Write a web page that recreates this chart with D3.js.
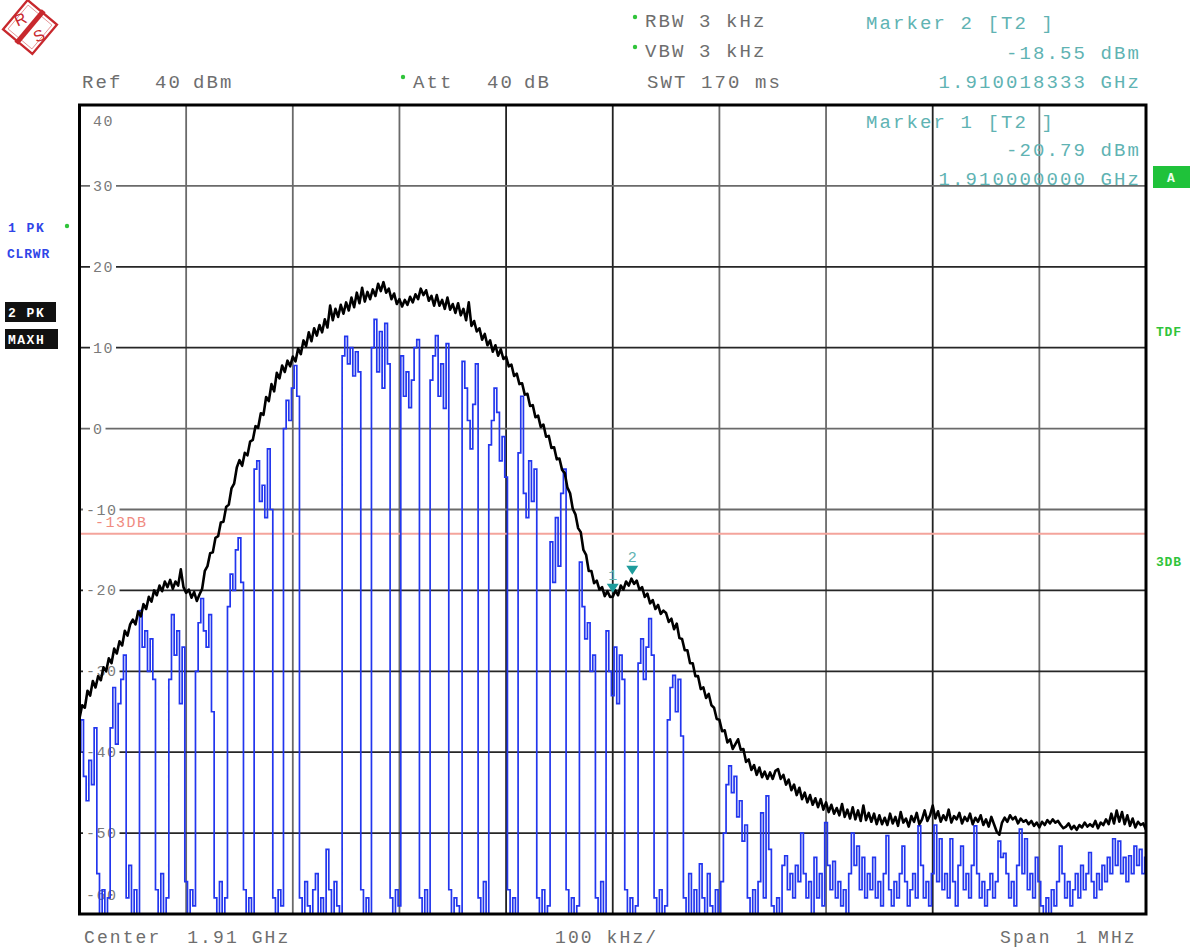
<!DOCTYPE html>
<html>
<head>
<meta charset="utf-8">
<script src="https://cdn.jsdelivr.net/npm/d3@7/dist/d3.min.js"></script>
<style>
  html, body { margin: 0; padding: 0; background: #fff; }
  svg { display: block; }
</style>
</head>
<body>
<svg id="chart" width="1192" height="949"></svg>
<script>
// Spectrum analyzer sweep: center 1.91 GHz, span 1 MHz, 401 sweep points
const CENTER_GHZ = 1.91;
const SPAN_KHZ = 1000;
const SWEEP_STEP_KHZ = 2.5;
const REF_LEVEL = 40;
const LEVEL_RANGE = [-60, 40];
const LEVEL_LABELS = ['40', '30', '20', '10', '0', '-10', '-20', '-30', '-40', '-50', '-60'];
const LIMIT_DB = -13;

// trace 1: PK, clear/write (blue) - dBm per sweep point
const trace1 = [
  -40,-36,-43,-46,-41,-44,-37,-55,-60,-57,-60,-58,-37,-32,-39,-34,-31,-28,-58,-54,
  -60,-57,-60,-22.5,-27,-25,-30,-26,-31,-57,-60,-55,-60,-58,-31,-23,-28,-25,-34,-27,
  -56,-60,-57,-59,-30,-24,-21,-25,-27,-23,-35,-58,-60,-56,-60,-58,-22,-18,-20,-15,
  -13.5,-19,-57,-60,-58,-60,-5,-4,-9,-7,-11,-2.5,-10,-58,-60,-57,-59,0,3.5,1,
  5,7.8,4,-58,-60,-56,-59,-60,-57,-55,-60,-58,-60,-52,-57,-60,-56,-59,-60,9,
  11.4,8,10,6.5,9.5,7,-57,-60,-58,-60,10,13.5,7,12,5,13,8,-58,-60,-57,
  -59,9,4,7,2.6,6,10,11,-58,-60,-57,-60,6,9,11.5,4,8,2.5,10.5,-57,
  -60,-58,-59,-60,8.3,5,1,-2.5,3,8,-58,-60,-56,-60,-2,1,5,2,-4,-1,
  -6,-57,-60,-58,-60,-3,4,-8,-11,-4,-9,-5,-58,-60,-57,-60,-59,-14,-19,-11,
  -17,-8,-5,-57,-60,-58,-60,-59,-16.5,-22,-26,-24,-30,-28,-58,-60,-56,-60,-25,-30,
  -33,-27,-34,-28,-31,-57,-60,-58,-60,-59,-29,-26,-31,-27,-23.5,-28,-58,-60,-57,-60,
  -59,-36,-32,-30.5,-35,-31,-38,-58,-60,-55,-60,-57,-60,-53.8,-58,-60,-55,-59,-60,-57,
  -60,-56,-50,-44,-41.7,-45,-43,-48,-46,-51,-49,-58,-60,-57,-60,-56,-47.5,-58,-45.4,-52,
  -59,-60,-58,-60,-54,-52.8,-57,-55,-58,-54,-56,-50,-55,-58,-56,-60,-53,-58,-55,-59,
  -48.7,-54,-57,-53.5,-58,-56,-59,-57,-60,-55,-50,-54,-51.6,-57,-53,-58,-55,-57,-53,-58,
  -56,-59,-55,-50.3,-57,-59,-56,-58,-55,-51.6,-56,-59,-57,-55,-58,-49.1,-54,-58,-56,-59,
  -55,-49,-56,-50.7,-57,-55,-58,-50.7,-56,-59,-54,-51.6,-57,-55,-58,-54,-49.1,-55,-58,-56,
  -59,-57,-55,-58,-56,-51,-53,-52.5,-55,-58,-56,-59,-54,-49.5,-55,-50.7,-57,-55,-58,-53,
  -56,-59,-60,-58,-60,-57,-59,-56,-51.6,-55,-58,-56,-59,-57,-55,-58,-54,-57,-55,-52.4,
  -56,-58,-55,-57,-54,-56,-53,-55,-50.7,-54,-51,-55,-53,-56,-52.8,-55,-51.6,-54,-52,-55,-53
];

// trace 2: PK, max hold (black) - dBm per sweep point
const trace2 = [
  -35.8,-34.2,-34.5,-32.4,-33.0,-31.2,-32.0,-30.6,-31.1,-29.5,-30.0,-28.4,-29.0,-27.2,-27.8,-26.3,-26.8,-25.0,-25.6,-24.2,
  -23.6,-24.2,-22.6,-23.2,-21.7,-22.3,-20.8,-21.4,-20.0,-20.6,-19.4,-20.1,-18.9,-19.6,-18.7,-19.8,-18.9,-19.4,-17.4,-19.6,
  -20.3,-19.9,-20.9,-20.2,-21.3,-20.5,-19.8,-17.6,-17.0,-15.4,-15.3,-13.5,-13.3,-11.6,-11.5,-9.7,-9.4,-7.4,-6.8,-4.8,
  -3.9,-4.6,-3.0,-3.3,-1.6,-1.4,0.3,0.1,1.9,1.7,3.9,3.4,5.5,4.6,6.9,6.2,7.8,7.0,8.4,7.7,
  8.9,8.3,9.9,9.2,10.9,10.2,11.9,10.8,12.4,11.5,12.8,11.9,13.5,12.5,15.2,13.4,14.8,13.8,15.3,14.2,
  15.6,14.6,16.2,15.0,16.8,15.5,17.4,15.7,16.9,16.0,17.2,16.4,17.9,17.0,18.1,16.8,17.3,16.0,16.7,15.4,
  16.0,15.1,15.9,15.3,16.3,15.6,16.6,16.0,17.3,16.5,17.1,15.8,16.4,15.2,16.5,15.2,15.9,14.8,16.2,14.7,
  15.4,14.3,15.5,14.0,14.8,13.4,15.6,12.7,13.3,12.0,12.4,11.0,11.7,10.3,10.9,9.5,10.3,9.0,9.8,8.6,
  8.9,7.7,7.9,6.5,6.8,5.5,5.6,4.2,4.3,2.8,2.9,1.4,1.6,0.2,0.5,-1.0,-0.9,-2.4,-2.3,-3.8,
  -3.7,-5.1,-5.5,-7.3,-8.0,-9.9,-10.6,-12.3,-12.8,-15.0,-15.6,-17.6,-17.6,-19.1,-18.8,-19.9,-19.6,-20.7,-20.1,-20.8,
  -20.79,-20.0,-20.6,-19.4,-19.9,-18.9,-19.4,-18.55,-19.2,-18.8,-19.9,-19.6,-20.8,-20.4,-21.6,-21.2,-22.3,-21.8,-22.9,-22.5,
  -22.8,-23.9,-23.5,-24.8,-24.1,-25.9,-26.0,-27.4,-27.4,-29.0,-29.0,-30.6,-30.6,-32.2,-32.0,-33.3,-32.8,-34.2,-34.5,-35.9,
  -36.0,-37.4,-37.3,-38.8,-38.4,-39.6,-39.0,-38.4,-39.7,-39.6,-41.2,-40.9,-42.2,-41.6,-42.8,-41.9,-43.1,-42.4,-43.3,-42.5,
  -43.3,-42.3,-42.1,-43.3,-42.8,-44.0,-43.4,-44.7,-44.0,-45.3,-44.4,-45.8,-45.0,-46.2,-45.3,-46.5,-45.7,-46.8,-45.8,-47.1,
  -46.2,-47.4,-46.5,-47.6,-46.9,-47.8,-46.4,-48.0,-47.1,-48.2,-46.8,-48.3,-47.2,-48.5,-46.6,-48.4,-47.5,-48.6,-47.6,-48.9,
  -47.8,-48.9,-48.1,-49.0,-47.6,-48.8,-48.0,-49.1,-47.4,-48.7,-48.2,-49.2,-47.9,-48.6,-47.5,-48.9,-48.3,-47.2,-48.5,-47.8,
  -46.6,-48.2,-47.3,-48.6,-47.8,-48.4,-47.1,-48.7,-47.9,-48.3,-47.5,-48.8,-48.0,-48.5,-47.6,-48.9,-48.1,-48.6,-47.8,-49.0,
  -48.3,-49.2,-48.0,-48.9,-49.8,-50.2,-48.7,-48.1,-48.6,-47.8,-48.3,-48.0,-48.8,-48.2,-48.6,-48.4,-48.9,-48.5,-49.1,-48.7,
  -49.3,-48.6,-49.0,-48.4,-48.8,-48.3,-48.7,-48.5,-49.0,-49.4,-49.2,-48.8,-49.5,-49.1,-49.6,-49.0,-49.3,-48.7,-49.2,-48.9,
  -49.2,-48.5,-49.4,-48.7,-49.0,-48.3,-48.9,-47.6,-48.8,-47.2,-48.6,-47.4,-48.9,-47.8,-49.1,-48.2,-49.3,-48.6,-49.0,-48.8,-49.6
];

// markers on trace 2 (offset from center in kHz, level in dBm)
const markerIds = [1, 2];
const markerOffsetsKHz = [0, 18.333];
const markerLevels = [-20.79, -18.55];

const MONO = "'Liberation Mono', 'DejaVu Sans Mono', monospace";
const GREY = '#6e6e6e';
const TEAL = '#5fb3b3';
const GREEN = '#2fc43a';

const svg = d3.select('#chart');
const plot = { left: 79.5, right: 1146, top: 105, bottom: 914 };

const x = d3.scaleLinear().domain([-SPAN_KHZ / 2, SPAN_KHZ / 2]).range([plot.left, plot.right]);
const y = d3.scaleLinear().domain(LEVEL_RANGE).range([plot.bottom, plot.top]);
const freqAt = i => -SPAN_KHZ / 2 + i * SWEEP_STEP_KHZ;

svg.append('defs').append('clipPath').attr('id', 'plotClip')
  .append('rect')
  .attr('x', plot.left).attr('y', plot.top)
  .attr('width', plot.right - plot.left).attr('height', plot.bottom - plot.top);

// --- grid ---
const grid = svg.append('g');
grid.selectAll('line.v').data(x.ticks(10).slice(1, -1)).join('line')
  .attr('x1', d => x(d)).attr('x2', d => x(d))
  .attr('y1', plot.top).attr('y2', plot.bottom)
  .attr('stroke', (d, i) => (i === 3 || i === 4 || i === 7) ? '#222' : '#6a6a6a')
  .attr('stroke-width', 1.8);
grid.selectAll('line.h').data(y.ticks(10).slice(1, -1)).join('line')
  .attr('x1', plot.left).attr('x2', plot.right)
  .attr('y1', d => y(d)).attr('y2', d => y(d))
  .attr('stroke', d => (d === 30 || d === 0 || d === -10) ? '#6a6a6a' : '#262626')
  .attr('stroke-width', 1.8);

// level labels with white knock-out
const levelVals = LEVEL_LABELS.map(Number);
const lbl = svg.append('g');
levelVals.forEach((v, i) => {
  let cy = y(v);
  if (v === 40) cy = y(v) + 16;
  if (v === -60) cy = y(v) - 19;
  const tx = v < 0 ? 86 : 93;
  const t = lbl.append('text')
    .attr('x', tx).attr('y', cy + 5)
    .attr('font-family', MONO).attr('font-size', 15).attr('letter-spacing', 1.5)
    .attr('fill', '#7a7a7a').text(LEVEL_LABELS[i]);
  const bb = t.node().getBBox();
  if (v !== 40 && v !== -60) {
    lbl.insert('rect', 'text')
      .attr('x', bb.x - 3).attr('y', cy - 3)
      .attr('width', bb.width + 5).attr('height', 6).attr('fill', '#fff');
  }
});

// limit line -13 dB
svg.append('line')
  .attr('x1', plot.left).attr('x2', plot.right)
  .attr('y1', y(LIMIT_DB)).attr('y2', y(LIMIT_DB))
  .attr('stroke', '#f4a49c').attr('stroke-width', 2);
svg.append('text')
  .attr('x', 95).attr('y', y(LIMIT_DB) - 7)
  .attr('font-family', MONO).attr('font-size', 15).attr('letter-spacing', 1.5)
  .attr('fill', '#f08a80').text('-13DB');

// --- traces ---
const traces = svg.append('g').attr('clip-path', 'url(#plotClip)');
const stepLine = d3.line().x((d, i) => x(freqAt(i))).y(d => y(d)).curve(d3.curveStep);
const line = d3.line().x((d, i) => x(freqAt(i))).y(d => y(d));
traces.append('path').datum(trace1)
  .attr('d', stepLine).attr('fill', 'none')
  .attr('stroke', '#2236ee').attr('stroke-width', 1.7);
traces.append('path').datum(trace2)
  .attr('d', line).attr('fill', 'none')
  .attr('stroke', '#000').attr('stroke-width', 2.6).attr('stroke-linejoin', 'round');

// --- markers ---
markerIds.forEach((id, k) => {
  const mx = x(markerOffsetsKHz[k]);
  const my = y(markerLevels[k]) - 4;
  svg.append('path')
    .attr('d', `M${mx - 6},${my - 9}L${mx + 6},${my - 9}L${mx},${my}Z`)
    .attr('fill', '#1e9c9c');
  svg.append('text')
    .attr('x', mx).attr('y', my - 13).attr('text-anchor', 'middle')
    .attr('font-family', MONO).attr('font-size', 15)
    .attr('fill', TEAL).text(id);
});

// --- frame ---
svg.append('rect')
  .attr('x', plot.left).attr('y', plot.top)
  .attr('width', plot.right - plot.left).attr('height', plot.bottom - plot.top)
  .attr('fill', 'none').attr('stroke', '#000').attr('stroke-width', 3);

// --- header / footer text ---
function txt(s, tx, ty, opts = {}) {
  return svg.append('text')
    .attr('x', tx).attr('y', ty)
    .attr('text-anchor', opts.anchor || 'start')
    .attr('font-family', MONO).attr('font-size', opts.size || 19)
    .attr('font-weight', opts.weight || 'normal')
    .attr('letter-spacing', opts.ls == null ? 2.1 : opts.ls)
    .attr('fill', opts.fill || GREY)
    .attr('xml:space', 'preserve')
    .text(s);
}
function dot(cx, cy) {
  svg.append('circle').attr('cx', cx).attr('cy', cy).attr('r', 2.2).attr('fill', GREEN);
}

txt('Ref', 82, 88); txt(String(REF_LEVEL), 155, 88); txt('dBm', 193, 88);
dot(403, 77); txt('Att', 413, 88); txt('40', 487, 88); txt('dB', 524, 88);
dot(635, 17); txt('RBW 3 kHz', 645, 27);
dot(635, 47); txt('VBW 3 kHz', 645, 57);
txt('SWT 170 ms', 647, 88);

const mk2 = markerIds.length - 1;
txt(`Marker ${markerIds[mk2]} [T2 ]`, 866, 29, { fill: TEAL });
txt(`${markerLevels[mk2].toFixed(2)} dBm`, 1141, 59, { fill: TEAL, anchor: 'end' });
txt(`${(CENTER_GHZ + markerOffsetsKHz[mk2] / 1e6).toFixed(9)} GHz`, 1141, 88, { fill: TEAL, anchor: 'end' });
txt(`Marker ${markerIds[0]} [T2 ]`, 866, 128, { fill: TEAL });
txt(`${markerLevels[0].toFixed(2)} dBm`, 1141, 156, { fill: TEAL, anchor: 'end' });
txt(`${(CENTER_GHZ + markerOffsetsKHz[0] / 1e6).toFixed(9)} GHz`, 1141, 185, { fill: TEAL, anchor: 'end' });

txt(`Center  ${CENTER_GHZ} GHz`, 84, 943, { size: 18 });
txt(`${SPAN_KHZ / 10} kHz/`, 555, 943, { size: 18 });
txt('Span', 1000, 943, { size: 18 }); txt('1', 1076, 943, { size: 18 }); txt('MHz', 1098, 943, { size: 18 });

// left trace info
txt('1 PK', 8, 232, { fill: '#2f45e8', size: 13, weight: 'bold', ls: 1.5 });
dot(67, 226);
txt('CLRWR', 7, 258, { fill: '#2f45e8', size: 13, weight: 'bold', ls: 0.8 });
svg.append('rect').attr('x', 5).attr('y', 302).attr('width', 51).attr('height', 20).attr('fill', '#111');
txt('2 PK', 8, 317, { fill: '#fff', size: 13, weight: 'bold', ls: 1.5 });
svg.append('rect').attr('x', 5).attr('y', 329).attr('width', 53).attr('height', 20).attr('fill', '#111');
txt('MAXH', 8, 344, { fill: '#fff', size: 13, weight: 'bold', ls: 1.5 });

// right side status
svg.append('rect').attr('x', 1153).attr('y', 166).attr('width', 37).attr('height', 22).attr('fill', '#1fc23a');
txt('A', 1171, 182, { fill: '#eaffea', size: 13, weight: 'bold', anchor: 'middle', ls: 0 });
txt('TDF', 1156, 336, { fill: GREEN, size: 13, weight: 'bold', ls: 0.8 });
txt('3DB', 1156, 566, { fill: GREEN, size: 13, weight: 'bold', ls: 0.8 });

// --- R&S logo ---
const RS_RED = '#c8282d';
const logo = svg.append('g').attr('transform', 'translate(30,27) rotate(-5)');
logo.append('path').attr('d', 'M0,-27L27,0L0,27L-27,0Z')
  .attr('fill', '#fff').attr('stroke', RS_RED).attr('stroke-width', 2.4);
logo.append('path').attr('d', 'M0,-22L22,0L0,22L-22,0Z')
  .attr('fill', 'none').attr('stroke', RS_RED).attr('stroke-width', 0.8).attr('opacity', 0.6);
logo.append('path').attr('d', 'M-15,15L15,-15')
  .attr('stroke', RS_RED).attr('stroke-width', 5);
logo.append('text').attr('x', -9).attr('y', -3).attr('text-anchor', 'middle')
  .attr('font-family', "'Liberation Sans', Arial, sans-serif").attr('font-size', 16)
  .attr('fill', RS_RED).attr('transform', 'rotate(-20,-9,-9)').text('R');
logo.append('text').attr('x', 8).attr('y', 15).attr('text-anchor', 'middle')
  .attr('font-family', "'Liberation Sans', Arial, sans-serif").attr('font-size', 16)
  .attr('fill', RS_RED).attr('transform', 'rotate(-20,8,9)').text('S');
</script>
</body>
</html>
